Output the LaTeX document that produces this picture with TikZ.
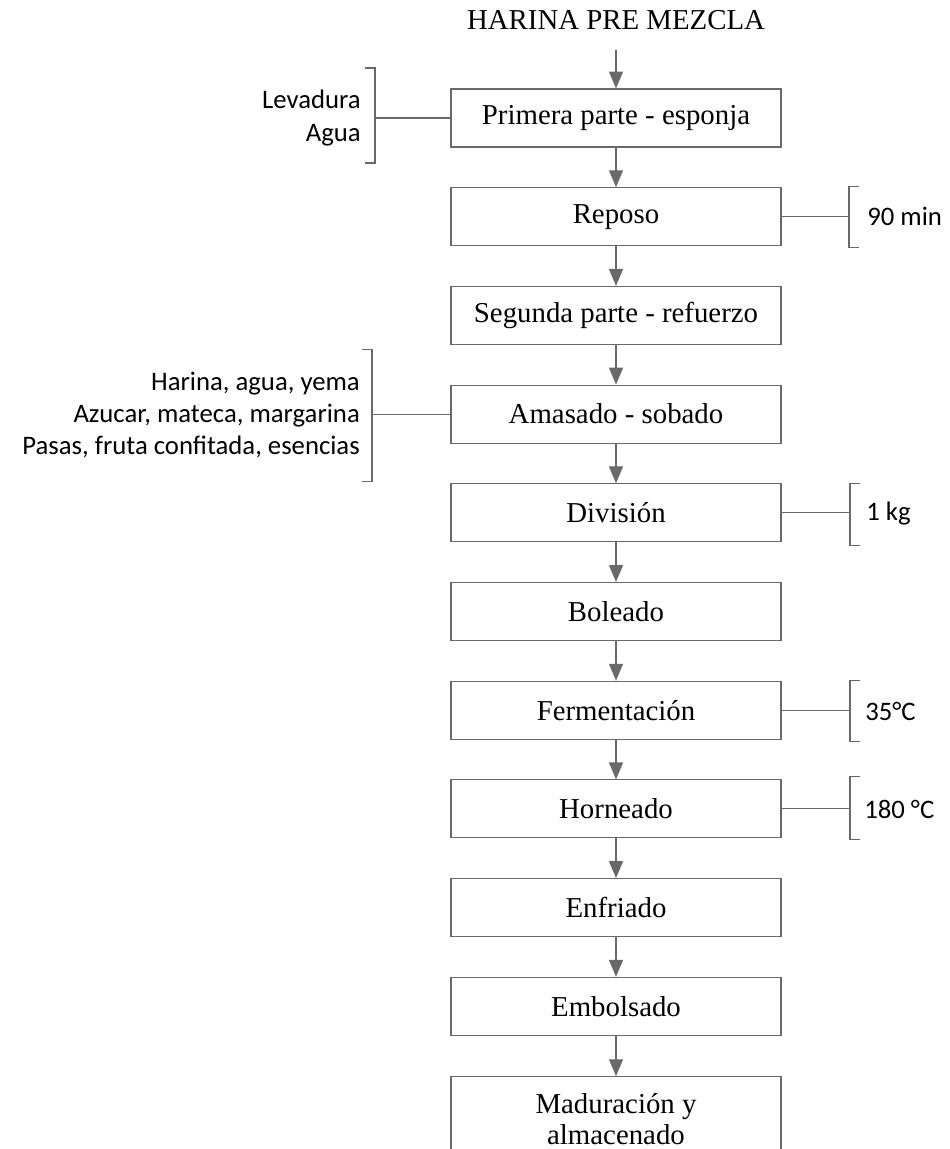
\documentclass[tikz,border=0pt]{standalone}
\usepackage{fontspec}
\setmainfont{Liberation Serif}
\newfontfamily\sidefont{Carlito}
\usetikzlibrary{arrows.meta}
\definecolor{linegray}{RGB}{105,105,105}
\tikzset{
  paso/.style={draw=linegray, line width=0.8pt, minimum width=8.25cm, minimum height=1.45cm,
    font=\fontsize{20.5}{22}\selectfont, align=center, inner sep=0pt},
  dato/.style={font=\sidefont\fontsize{19}{24}\selectfont, inner sep=0pt},
  liga/.style={draw=linegray, line width=0.8pt},
}
\begin{document}
\begin{tikzpicture}[x=0.025cm, y=-0.025cm, >={Triangle[length=12pt,width=10pt]}]
  \useasboundingbox (0,0) rectangle (949,1149);
  \node (tit) at (616,20) {\fontsize{20.5}{22}\selectfont HARINA PRE MEZCLA};
  \coordinate (ini) at (616,50);

  \node[paso] (p1) at (616,118) {Primera parte - esponja};
  \node[paso] (p2) at (616,216.7) {Reposo};
  \node[paso] (p3) at (616,315.4) {Segunda parte - refuerzo};
  \node[paso] (p4) at (616,414.1) {Amasado - sobado};
  \node[paso] (p5) at (616,512.8) {División};
  \node[paso] (p6) at (616,611.5) {Boleado};
  \node[paso] (p7) at (616,710.2) {Fermentación};
  \node[paso] (p8) at (616,808.9) {Horneado};
  \node[paso] (p9) at (616,907.6) {Enfriado};
  \node[paso] (p10) at (616,1006.3) {Embolsado};
  \node[paso, minimum height=2.1cm] (p11) at (616,1118.7) {Maduración y\\almacenado};

  \path [->, color=linegray, line width=0.8pt]
    (ini) edge (p1)
    (p1) edge (p2)
    (p2) edge (p3)
    (p3) edge (p4)
    (p4) edge (p5)
    (p5) edge (p6)
    (p6) edge (p7)
    (p7) edge (p8)
    (p8) edge (p9)
    (p9) edge (p10)
    (p10) edge (p11);

  % entradas a la izquierda
  \node[dato, anchor=east, align=right] (ing1) at (361,118) {Levadura\\Agua};
  \coordinate (c1) at (375,118);
  \draw[liga] (c1) ++(-10,-50) -- ++(10,0) -- ++(0,95) -- ++(-10,0);
  \draw[liga] (c1) -- (p1);

  \node[dato, anchor=east, align=right, font=\sidefont\fontsize{19}{23}\selectfont] (ing2) at (360,415)
    {Harina, agua, yema\\Azucar, mateca, margarina\\Pasas, fruta confitada, esencias};
  \coordinate (c2) at (372,414.1);
  \draw[liga] (c2) ++(-10,-65) -- ++(10,0) -- ++(0,132) -- ++(-10,0);
  \draw[liga] (c2) -- (p4);

  % condiciones a la derecha
  \node[dato, anchor=west] (cd1) at (867,216.7) {90 min};
  \coordinate (c3) at (849,216.7);
  \draw[liga] (c3) ++(10,-30) -- ++(-10,0) -- ++(0,61) -- ++(10,0);
  \draw[liga] (p2) -- (c3);

  \node[dato, anchor=west] (cd2) at (866,514) {1 kg};
  \coordinate (c4) at (850,512.8);
  \draw[liga] (c4) ++(10,-29) -- ++(-10,0) -- ++(0,62) -- ++(10,0);
  \draw[liga] (p5) -- (c4);

  \node[dato, anchor=west] (cd3) at (865,711) {35°C};
  \coordinate (c5) at (850,710.2);
  \draw[liga] (c5) ++(10,-30) -- ++(-10,0) -- ++(0,61) -- ++(10,0);
  \draw[liga] (p7) -- (c5);

  \node[dato, anchor=west] (cd4) at (864,809) {180 °C};
  \coordinate (c6) at (850,808.9);
  \draw[liga] (c6) ++(10,-32) -- ++(-10,0) -- ++(0,63) -- ++(10,0);
  \draw[liga] (p8) -- (c6);
\end{tikzpicture}
\end{document}
